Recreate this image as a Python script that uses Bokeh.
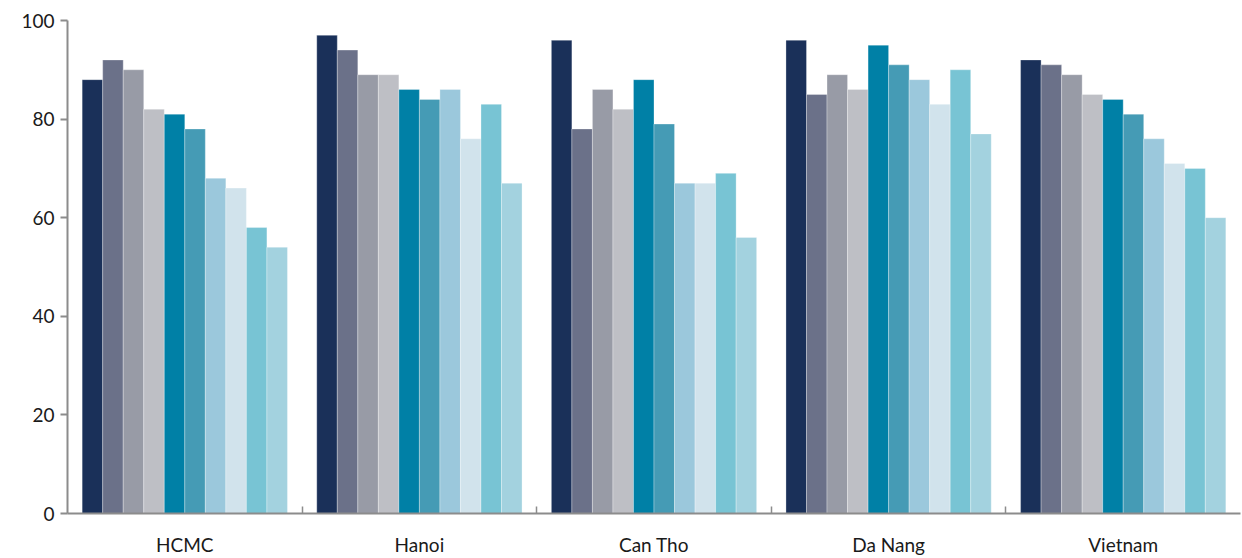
import numpy as np
from bokeh.plotting import figure
from bokeh.models import ColumnDataSource, FixedTicker, Range1d
from bokeh.embed import file_html
from bokeh.resources import INLINE

# Regions on the x axis
categories = ["HCMC", "Hanoi", "Can Tho", "Da Nang", "Vietnam"]

# Ten series, one value per region
s1 = [88, 97, 96, 96, 92]
s2 = [92, 94, 78, 85, 91]
s3 = [90, 89, 86, 89, 89]
s4 = [82, 89, 82, 86, 85]
s5 = [81, 86, 88, 95, 84]
s6 = [78, 84, 79, 91, 81]
s7 = [68, 86, 67, 88, 76]
s8 = [66, 76, 67, 83, 71]
s9 = [58, 83, 69, 90, 70]
s10 = [54, 67, 56, 77, 60]
series = [s1, s2, s3, s4, s5, s6, s7, s8, s9, s10]

y_ticks = [0, 20, 40, 60, 80, 100]

colors = ["#1a3059", "#6b7189", "#989ba6", "#bebfc5", "#0080a6",
          "#459bb5", "#9bc8dc", "#d1e3ec", "#78c4d4", "#a3d2df"]

FONT = "Lato"
n_cat = len(categories)
n_ser = len(series)
group_frac = 0.875
bar_w = group_frac / n_ser

p = figure(width=1242, height=558, output_backend="svg", toolbar_location=None,
           x_range=Range1d(0, n_cat), y_range=Range1d(0, 100))
p.min_border_left = 67
p.min_border_right = 2
p.min_border_top = 20
p.min_border_bottom = 38
p.outline_line_color = None
p.background_fill_color = "white"
p.border_fill_color = "white"
p.xgrid.grid_line_color = None
p.ygrid.grid_line_color = None

centers = np.arange(n_cat) + 0.5
for j, vals in enumerate(series):
    xs = centers + (j - (n_ser - 1) / 2) * bar_w
    src = ColumnDataSource(dict(x=xs, top=vals))
    p.vbar(x="x", top="top", bottom=0, width=bar_w, source=src,
           fill_color=colors[j], line_color="white", line_alpha=0.5, line_width=0.6)

# x axis: labels at group centres, small inward ticks between groups
xa = p.xaxis[0]
xa.ticker = FixedTicker(ticks=list(centers), minor_ticks=list(range(1, n_cat)))
xa.major_label_overrides = {float(c): lab for c, lab in zip(centers, categories)}
xa.major_tick_line_color = None
xa.minor_tick_in = 7
xa.minor_tick_out = 0
xa.minor_tick_line_color = "#8c8c8c"
xa.minor_tick_line_width = 1.5
xa.axis_line_color = "#8c8c8c"
xa.axis_line_width = 2
xa.major_label_standoff = 13
xa.major_label_text_font = FONT
xa.major_label_text_font_size = "19px"
xa.major_label_text_color = "#1a1a1a"

ya = p.yaxis[0]
ya.ticker = FixedTicker(ticks=y_ticks)
ya.minor_tick_line_color = None
ya.major_tick_in = 0
ya.major_tick_out = 7
ya.major_tick_line_color = "#8c8c8c"
ya.major_tick_line_width = 2
ya.axis_line_color = "#8c8c8c"
ya.axis_line_width = 2
ya.major_label_standoff = 6
ya.major_label_text_font = FONT
ya.major_label_text_font_size = "19px"
ya.major_label_text_color = "#1a1a1a"

open("out.html", "w").write(file_html(p, INLINE))
